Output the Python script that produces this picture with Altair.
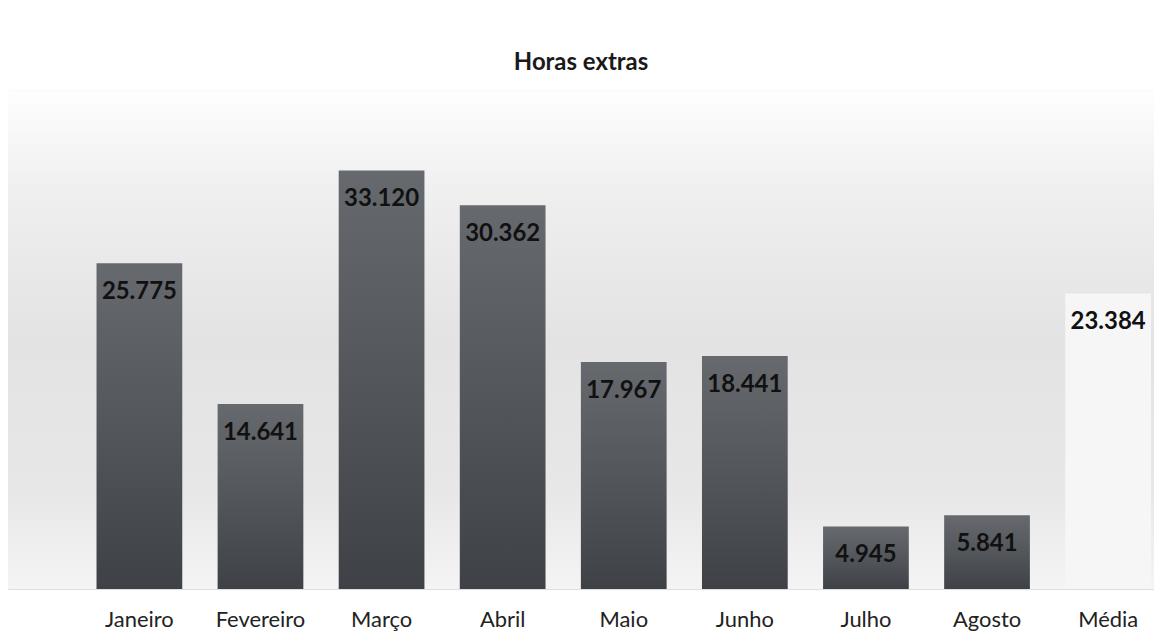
import altair as alt
import pandas as pd

categories = ["Janeiro", "Fevereiro", "Março", "Abril", "Maio", "Junho", "Julho", "Agosto", "Média"]
values = [25.775, 14.641, 33.120, 30.362, 17.967, 18.441, 4.945, 5.841, 23.384]
labels = ["25.775", "14.641", "33.120", "30.362", "17.967", "18.441", "4.945", "5.841", "23.384"]

df = pd.DataFrame({"mes": categories, "horas": values, "rotulo": labels})

W, H = 1150, 500
FONT = "Lato"

xenc = alt.X("mes:N", sort=categories,
             scale=alt.Scale(paddingInner=0.292, paddingOuter=0.378, align=0.967),
             axis=alt.Axis(title=None, labelAngle=0, ticks=False, domain=False,
                           labelFontSize=22, labelFont=FONT, labelColor="#222222",
                           labelPadding=21, grid=False))
yenc = alt.Y("horas:Q", scale=alt.Scale(domain=[0, 39.42], nice=False, zero=True), axis=None)

bg_grad = alt.LinearGradient(
    gradient="linear", x1=0, x2=0, y1=0, y2=1,
    stops=[alt.GradientStop(color="#fefefe", offset=0.0),
           alt.GradientStop(color="#efefef", offset=0.2),
           alt.GradientStop(color="#e3e3e3", offset=0.5),
           alt.GradientStop(color="#e7e7e7", offset=0.8),
           alt.GradientStop(color="#f4f4f4", offset=1.0)])

background = alt.Chart(alt.Data(values=[{"k": 1}])).mark_rect(color=bg_grad).encode(
    x=alt.value(0), x2=alt.value({"expr": "width"}),
    y=alt.value(0), y2=alt.value({"expr": "height"}))

bar_grad = alt.LinearGradient(
    gradient="linear", x1=0, x2=0, y1=0, y2=1,
    stops=[alt.GradientStop(color="#66696e", offset=0.0),
           alt.GradientStop(color="#53565b", offset=0.5),
           alt.GradientStop(color="#3e4146", offset=1.0)])

base = alt.Chart(df)

bars = base.transform_filter(alt.datum.mes != "Média").mark_bar(color=bar_grad).encode(x=xenc, y=yenc)
media = base.transform_filter(alt.datum.mes == "Média").mark_bar(color="#f6f6f6").encode(x=xenc, y=yenc)

text = base.mark_text(baseline="middle", align="center", dy=29, fontSize=24,
                      fontWeight="bold", font=FONT, color="#111111").encode(
    x=xenc, y=yenc, text="rotulo:N")

chart = alt.layer(background, bars, media, text).properties(
    width=W, height=H,
    title=alt.TitleParams("Horas extras", fontSize=24, font=FONT, fontWeight="bold",
                          color="#1a1a1a", anchor="middle", offset=16),
    autosize=alt.AutoSizeParams(type="none"),
    padding={"left": 0, "top": 82, "right": 0, "bottom": 50},
).configure_view(stroke=None).configure(background="white")

chart.save("out.html", embed_options={"renderer": "svg", "actions": False})
